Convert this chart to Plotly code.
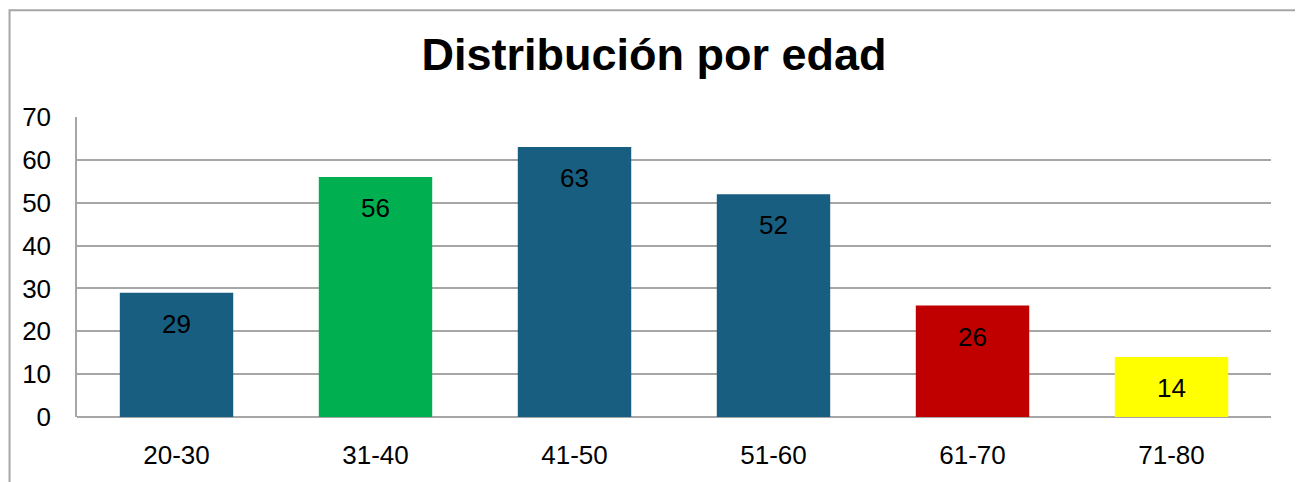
import plotly.graph_objects as go

# Datos del gráfico
categorias = ["20-30", "31-40", "41-50", "51-60", "61-70", "71-80"]
valores = [29, 56, 63, 52, 26, 14]
colores = ["#175E80", "#00B050", "#175E80", "#175E80", "#C00000", "#FFFF00"]
ticks_y = [0, 10, 20, 30, 40, 50, 60, 70]

fuente = "Liberation Sans, Arial, sans-serif"

# la página deja 8px de margen al cuerpo: la figura se reduce para que quepa
W, H = 1295, 474

fig = go.Figure(go.Bar(
    x=categorias,
    y=valores,
    marker=dict(color=colores, line=dict(width=0)),
    width=0.57,
    hoverinfo="x+y",
))

# Etiquetas de valor dentro de cada barra, cerca del extremo superior
for c, v in zip(categorias, valores):
    fig.add_annotation(x=c, y=v, text=str(v), showarrow=False,
                       yanchor="middle", yshift=-31,
                       font=dict(family=fuente, size=26, color="black"))

# Marco exterior del gráfico
fig.add_shape(type="rect", xref="paper", yref="paper",
              x0=-0.0565, x1=1.0226, y0=-0.3, y1=1.356,
              line=dict(color="#A6A6A6", width=2), layer="below")

fig.update_layout(
    width=W, height=H,
    margin=dict(l=69, r=32, t=109, b=63),
    paper_bgcolor="white", plot_bgcolor="white",
    showlegend=False,
    title=dict(text="<b>Distribución por edad</b>", x=646 / W, xanchor="center",
               y=1 - 46 / H, yref="container", yanchor="middle",
               font=dict(family=fuente, size=45, color="black")),
    font=dict(family=fuente, size=26, color="black"),
)

fig.update_xaxes(showgrid=False, showline=False, zeroline=False,
                 ticks="", ticklabelstandoff=20,
                 tickfont=dict(family=fuente, size=26, color="black"))
fig.update_yaxes(range=[0, 70], tickvals=ticks_y,
                 showgrid=True, gridcolor="#A6A6A6", gridwidth=1.5,
                 zeroline=True, zerolinecolor="#A6A6A6", zerolinewidth=1.5,
                 showline=True, linecolor="#A6A6A6", linewidth=1.5,
                 ticks="", ticklabelstandoff=19,
                 tickfont=dict(family=fuente, size=26, color="black"))

fig.write_html("out.html")
